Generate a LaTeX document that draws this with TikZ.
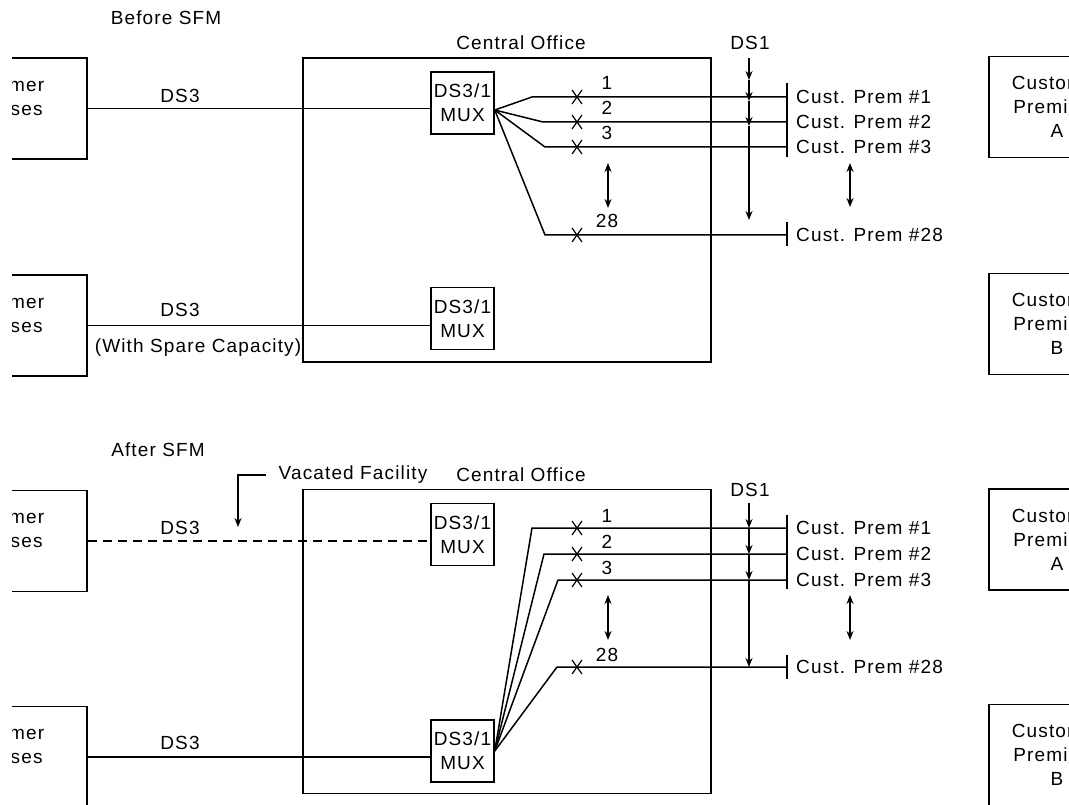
\documentclass[tikz,border=0pt]{standalone}
\usepackage{fontspec}
\setmainfont{Liberation Sans}[LetterSpace=6]
\usetikzlibrary{arrows.meta,calc}
\tikzset{
  lbl/.style={font=\fontsize{19}{24}\selectfont,inner sep=0pt,align=center},
  prem/.style={draw,line width=1.5pt,minimum height=101pt,lbl},
  premL/.style={prem,minimum width=176pt},
  premR/.style={prem,minimum width=136pt},
  co/.style={draw,line width=1.5pt,minimum width=408pt,minimum height=304pt,inner sep=0pt},
  mux/.style={draw,line width=1.5pt,minimum width=63pt,minimum height=62pt,lbl},
  link/.style={line width=1.5pt},
  ar/.style={link,-{Stealth[length=9pt,width=7pt]}},
  arr2/.style={link,{Stealth[length=9pt,width=7pt]}-{Stealth[length=9pt,width=7pt]}},
}
\begin{document}
\begin{tikzpicture}[x=1pt,y=-1pt]
  \useasboundingbox (0,0) rectangle (1069,805);
  \clip (12,0) rectangle (1069,805);

  % before SFM
  \node[lbl] (before) at (166,18) {Before SFM};
  \node[co] (co1) at (507,210) {};
  \node[lbl] (colbl1) at (521,43) {Central Office};
  \node[premL] (lp1) at (-1,108.5) {Customer\\Premises\\~};
  \node[premL] (lp2) at (-1,325.5) {Customer\\Premises\\~};
  \node[premR] (rpA1) at (1057,107) {Customer\\Premises\\A};
  \node[premR] (rpB1) at (1057,324) {Customer\\Premises\\B};
  \node[mux] (mux1) at (462.5,103) {DS3/1\\MUX};
  \node[mux] (mux2) at (462.5,318.5) {DS3/1\\MUX};
  \draw[link] (lp1.east) -- (lp1.east -| mux1.west);
  \draw[link] (lp2.east) -- (lp2.east -| mux2.west);
  \node[lbl] (ds3a) at (180,96) {DS3};
  \node[lbl] (ds3b) at (180,310) {DS3};
  \node[lbl] (spare) at (198,348) {(With Spare Capacity)};

  \coordinate (f1) at ([yshift=-7pt]mux1.east);
  \foreach \n/\bx/\y in {1/532/97,2/543/122,3/545/147,28/545/235} {
    \coordinate (a\n) at (787,\y);
    \draw[link] (f1) -- (\bx,\y) -- (a\n);
    \draw[line width=1.2pt] ({572},{\y-7}) -- ({582},{\y+7}) ({582},{\y-7}) -- ({572},{\y+7});
    \node[lbl] (na\n) at ({607},{\y-14}) {\n};
    \node[lbl,anchor=west] (cpa\n) at (796,\y) {Cust. Prem \#\n};
  }
  \draw[link] (787,83) -- (787,157);
  \draw[link] (787,222) -- (787,246);
  \node[lbl] (ds1a) at (750,43) {DS1};
  \coordinate (d0) at (749,58);
  \draw[ar] (d0) -- (749,80);
  \draw[ar] (749,80) -- (749,101);
  \draw[ar] (749,101) -- (749,126);
  \draw[ar] (749,126) -- (749,220);
  \draw[arr2] (608,163) -- (608,208);
  \draw[arr2] (850,163) -- (850,207);

  % after SFM
  \node[lbl] (after) at (158,450) {After SFM};
  \node[lbl] (vac) at (353,475) {Vacated Facility};
  \draw[ar] ([xshift=-12pt]vac.west) -| (238,527);
  \node[co] (co2) at (507,641.5) {};
  \node[lbl] (colbl2) at (521,475) {Central Office};
  \node[premL] (lp3) at (-1,541) {Customer\\Premises\\~};
  \node[premL] (lp4) at (-1,757) {Customer\\Premises\\~};
  \node[premR] (rpA2) at (1057,539.5) {Customer\\Premises\\A};
  \node[premR] (rpB2) at (1057,755) {Customer\\Premises\\B};
  \node[mux] (mux3) at (462.5,534.5) {DS3/1\\MUX};
  \node[mux] (mux4) at (462.5,751) {DS3/1\\MUX};
  \draw[link,dash pattern=on 9pt off 6pt] (lp3.east) -- (lp3.east -| mux3.west);
  \draw[link] (lp4.east) -- (lp4.east -| mux4.west);
  \node[lbl] (ds3c) at (180,528) {DS3};
  \node[lbl] (ds3d) at (180,743) {DS3};

  \foreach \n/\bx/\y in {1/532/528,2/544/554,3/558/580,28/557/667} {
    \coordinate (b\n) at (787,\y);
    \draw[link] (mux4.east) -- (\bx,\y) -- (b\n);
    \draw[line width=1.2pt] ({572},{\y-7}) -- ({582},{\y+7}) ({582},{\y-7}) -- ({572},{\y+7});
    \node[lbl] (nb\n) at ({607},{\y-12}) {\n};
    \node[lbl,anchor=west] (cpb\n) at (796,\y) {Cust. Prem \#\n};
  }
  \draw[link] (787,515) -- (787,589);
  \draw[link] (787,655) -- (787,679);
  \node[lbl] (ds1b) at (750,490) {DS1};
  \coordinate (e0) at (749,503);
  \draw[ar] (e0) -- (749,528);
  \draw[ar] (749,528) -- (749,554);
  \draw[ar] (749,554) -- (749,580);
  \draw[ar] (749,580) -- (749,667);
  \draw[arr2] (608,595) -- (608,640);
  \draw[arr2] (850,595) -- (850,640);
\end{tikzpicture}
\end{document}
